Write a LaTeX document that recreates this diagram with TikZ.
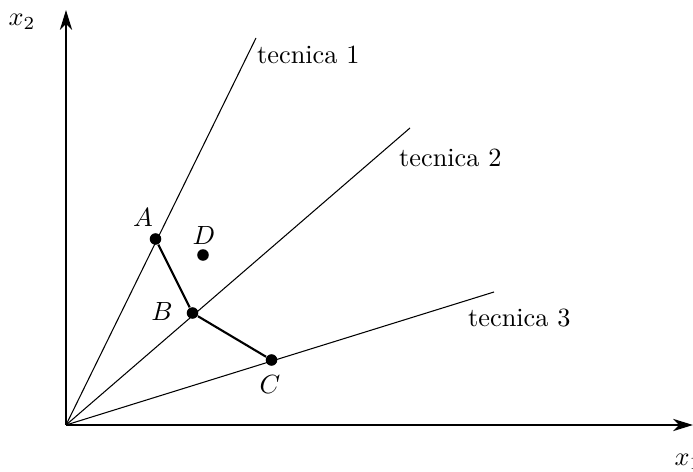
\documentclass[tikz,border=0pt]{standalone}
\usetikzlibrary{arrows.meta}
\begin{document}
\begin{tikzpicture}[x=0.38pt,y=-0.38pt,
  axis/.style={line width=0.8pt,-{Stealth[length=7.5pt,width=4.6pt,inset=2.2pt]}},
  ray/.style={line width=0.4pt},
  seg/.style={line width=0.8pt},
  dot/.style={circle,fill=black,inner sep=0pt,minimum size=4.4pt},
  lab/.style={inner sep=1pt}]
\useasboundingbox (0,0) rectangle (693,472);
\coordinate (O) at (66,425);
\coordinate (X) at (693,425);
\coordinate (Y) at (66,10);
\draw[axis] (O) -- (X);
\draw[axis] (O) -- (Y);
\node[lab] (x1) at (688,462) {$x_1$};
\node[lab] (x2) at (22,22) {$x_2$};
\coordinate (T1) at (256,38);
\coordinate (T2) at (410,128);
\coordinate (T3) at (494,292);
\draw[ray] (O) -- (T1);
\draw[ray] (O) -- (T2);
\draw[ray] (O) -- (T3);
\node[lab,anchor=west] (t1) at (254,55) {tecnica 1};
\node[lab,anchor=west] (t2) at (396,158) {tecnica 2};
\node[lab,anchor=west] (t3) at (465,318) {tecnica 3};
\node[dot] (A) at (155.5,239) {};
\node[dot] (B) at (192.5,313) {};
\node[dot] (C) at (271.5,360) {};
\node[dot] (D) at (203,255) {};
\draw[seg] (A) -- (B) -- (C);
\node[lab] (Al) at (143,218) {$A$};
\node[lab] (Dl) at (204,236) {$D$};
\node[lab] (Bl) at (162,312) {$B$};
\node[lab] (Cl) at (270,385) {$C$};
\end{tikzpicture}
\end{document}
